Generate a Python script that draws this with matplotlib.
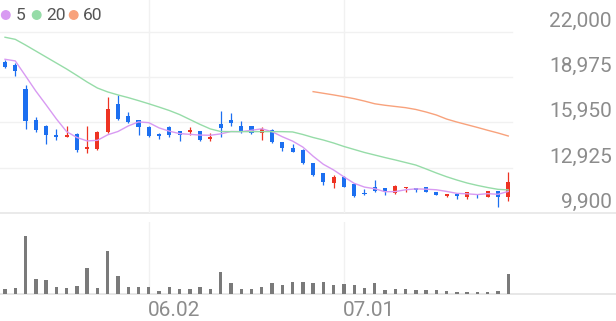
import numpy as np
import matplotlib
matplotlib.use('Agg')
import matplotlib.pyplot as plt
from matplotlib.patches import Ellipse

plt.rcParams['font.family'] = ['Roboto', 'DejaVu Sans']

# daily candles (50 sessions)
opens = [19950, 19780, 18160, 16110, 15710, 15110, 14970, 15170, 14150, 14190,
         15310, 17150, 16370, 16090, 15660, 15170, 15660, 15390, 15290, 15370,
         14840, 15860, 16110, 15710, 15710, 15220, 15440, 14620, 14260, 14110,
         13260, 12550, 11920, 12280, 11840, 11260, 11660, 11550, 11230, 11550,
         11550, 11620, 11320, 11060, 11150, 10990, 11190, 10990, 11370, 10940]
highs = [20100, 19940, 18460, 16330, 15750, 15490, 15710, 15220, 15710, 15350,
         17660, 17800, 16620, 16110, 15680, 15260, 15710, 15400, 15660, 15380,
         15220, 16730, 16550, 16060, 15720, 15620, 15490, 14660, 14510, 14150,
         13260, 12550, 12440, 12370, 11880, 11480, 12100, 11560, 11770, 11660,
         11560, 11630, 11330, 11180, 11160, 11290, 11200, 11380, 11380, 12660]
lows = [19600, 19040, 15510, 15330, 14510, 14770, 14950, 13990, 13920, 14110,
        15220, 16110, 15910, 15110, 14950, 14860, 14990, 14710, 15110, 14710,
        14730, 14950, 15710, 15260, 15190, 14770, 14590, 14060, 13950, 13170,
        12370, 11790, 11590, 11620, 10950, 11100, 11280, 11100, 11150, 11320,
        11320, 11300, 11080, 10990, 10810, 10810, 10880, 10980, 10280, 10730]
closes = [19650, 19380, 16040, 15440, 15090, 14950, 15110, 14110, 14290, 15290,
          16820, 16190, 15950, 15660, 15040, 15040, 15130, 15110, 15440, 14770,
          14990, 15590, 15930, 15390, 15210, 15490, 14620, 14220, 13950, 13220,
          12420, 11950, 12320, 11660, 11060, 11150, 11390, 11320, 11720, 11660,
          11440, 11320, 11100, 11170, 11040, 11280, 11080, 11370, 10990, 12000]
volumes = [50000, 63000, 583000, 147000, 140000, 73000, 57000, 83000, 260000, 57000,
           427000, 177000, 73000, 73000, 73000, 33000, 73000, 50000, 50000, 73000,
           53000, 223000, 107000, 50000, 50000, 67000, 113000, 90000, 117000, 125000,
           113000, 123000, 90000, 97000, 90000, 57000, 113000, 40000, 50000, 50000,
           40000, 40000, 40000, 30000, 23000, 23000, 23000, 23000, 33000, 197000]

# moving averages
ma5 = [20160, 20050, 19050, 18040, 17120, 16180, 15330, 14940, 14710, 14750,
       15120, 15340, 15710, 15980, 15930, 15580, 15360, 15200, 15150, 15100,
       15090, 15180, 15340, 15330, 15420, 15520, 15330, 14990, 14700, 14300,
       13690, 13150, 12770, 12310, 11880, 11630, 11520, 11320, 11330, 11450,
       11510, 11490, 11450, 11340, 11210, 11180, 11130, 11190, 11150, 11340]
ma20 = [21630, 21490, 21110, 20710, 20310, 19910, 19510, 19080, 18640, 18240,
        17980, 17780, 17600, 17400, 17190, 16970, 16740, 16470, 16140, 15810,
        15510, 15340, 15330, 15330, 15330, 15330, 15330, 15330, 15310, 15140,
        14940, 14770, 14570, 14340, 14140, 13940, 13770, 13600, 13440, 13270,
        13100, 12840, 12570, 12320, 12100, 11900, 11740, 11600, 11480, 11440]
ma60_start = 30
ma60 = [18000, 17890, 17780, 17660, 17530, 17370, 17190, 17090, 17010, 16930,
        16810, 16640, 16440, 16170, 15970, 15790, 15610, 15420, 15240, 15040]

price_ticks = [22000, 18975, 15950, 12925, 9900]
date_idx = [14, 33]
date_labels = ['06.02', '07.01']

RED = '#ee3322'
BLUE = '#1c6ff0'
GRID = '#f1f1f1'

W, H = 616, 321
fig = plt.figure(figsize=(W / 100, H / 100), dpi=100)
ax = fig.add_axes([0, 1 - 213 / H, 1, 213 / H])
axv = fig.add_axes([0, 1 - 294 / H, 1, 72 / H])

# 5 + 10.27*i pixels per candle
xlim = (-0.487, 59.49)
grid_end = 49.37
for a in (ax, axv):
    a.set_xlim(*xlim)
    a.axis('off')
ax.set_ylim(9900, 24116)
axv.set_ylim(0, 720000)

x = np.arange(len(closes))
o = np.array(opens)
c = np.array(closes)
colors = [RED if cc >= oo else BLUE for oo, cc in zip(o, c)]

# grid
for p in price_ticks[:-1]:
    ax.plot([xlim[0], grid_end], [p, p], color=GRID, lw=1, zorder=0)
ax.axhline(9900, color='#e6e6e6', lw=1.2, clip_on=False, zorder=0)
axv.axhline(0, color='#e3e3e3', lw=1.2, clip_on=False, zorder=0)
for i in date_idx:
    ax.axvline(i, color=GRID, lw=1, zorder=0)
    axv.axvline(i, color=GRID, lw=1, zorder=0)

# candles
ax.vlines(x, lows, highs, colors=colors, lw=0.9, zorder=2)
body = np.maximum(np.abs(c - o), 90)
ax.bar(x, body, bottom=np.minimum(o, c), width=0.4, color=colors, zorder=3)

# moving averages
ax.plot(x, ma5, color='#d89af2', lw=1.0, zorder=4)
ax.plot(x, ma20, color='#96dca8', lw=1.0, zorder=4)
ax.plot(np.arange(ma60_start, ma60_start + len(ma60)), ma60, color='#f8a27c', lw=1.0, zorder=4)

# volume
axv.bar(x, volumes, width=0.33, color='#7a7a7a', zorder=2)

# price labels on the right
for p in price_ticks:
    ax.annotate(f'{p:,}', xy=(1, p), xycoords=('axes fraction', 'data'),
                xytext=(-4, 5), textcoords='offset pixels',
                ha='right', va='baseline', fontsize=15, color='#8c8c8c')

# date labels
for i, lab in zip(date_idx, date_labels):
    axv.annotate(lab, xy=(i, 0), xycoords='data', xytext=(-1, -22),
                 textcoords='offset pixels', ha='left', va='baseline',
                 fontsize=15, color='#8c8c8c', annotation_clip=False)

# legend
legend = [(5.8, 16, '#d89af2', '5'), (36.7, 46.5, '#96dca8', '20'), (73.7, 83.3, '#f8a27c', '60')]
for cx, tx, col, lab in legend:
    fig.add_artist(Ellipse((cx / W, 1 - 15 / H), 8.5 / W, 8.5 / H,
                           transform=fig.transFigure, color=col))
    fig.text(tx / W, 1 - 15 / H, lab, ha='left', va='center',
             fontsize=12.5, color='#555555')

fig.savefig('out.png', dpi=100)
